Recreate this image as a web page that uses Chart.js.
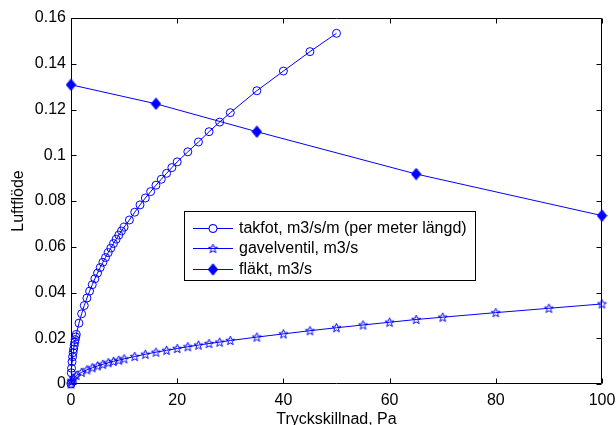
<!DOCTYPE html>
<html>
<head>
<meta charset="utf-8">
<script src="https://cdn.jsdelivr.net/npm/chart.js@4"></script>
<style>
  html, body { margin: 0; padding: 0; background: #fff; }
  canvas { display: block; }
</style>
</head>
<body>
<canvas id="c" width="616" height="425"></canvas>
<script>
// Pressure difference (Pa) and air flow for the three components
const pressureTakfot = [0, 0.05, 0.1, 0.2, 0.3, 0.4, 0.5, 0.6, 0.7, 0.8, 0.9, 1, 1.5, 2, 2.5, 3, 3.5, 4, 4.5, 5, 5.5, 6, 6.5, 7, 7.5, 8, 8.5, 9, 9.5, 10, 11, 12, 13, 14, 15, 16, 17, 18, 19, 20, 22, 24, 26, 28, 30, 35, 40, 45, 50];
const flowTakfot = [0, 0.0049, 0.0069, 0.0097, 0.0119, 0.0137, 0.0153, 0.0168, 0.0182, 0.0194, 0.0206, 0.0217, 0.0266, 0.0307, 0.0343, 0.0376, 0.0406, 0.0434, 0.046, 0.0485, 0.0509, 0.0532, 0.0553, 0.0574, 0.0594, 0.0614, 0.0633, 0.0651, 0.0669, 0.0686, 0.0717, 0.0751, 0.0783, 0.0813, 0.0841, 0.0869, 0.0895, 0.0921, 0.0946, 0.0971, 0.1015, 0.1058, 0.1103, 0.1145, 0.1186, 0.1282, 0.1368, 0.1453, 0.1533];

const pressureGavel = [0, 0.1, 0.2, 0.5, 1, 2, 3, 4, 5, 6, 7, 8, 9, 10, 12, 14, 16, 18, 20, 22, 24, 26, 28, 30, 35, 40, 45, 50, 55, 60, 65, 70, 80, 90, 100];
const flowGavel = [0, 0.0011, 0.0016, 0.0025, 0.0037, 0.0051, 0.0062, 0.0071, 0.0079, 0.0086, 0.0093, 0.0099, 0.0104, 0.0110, 0.0120, 0.0130, 0.0139, 0.0147, 0.0155, 0.0163, 0.0170, 0.0177, 0.0183, 0.0190, 0.0205, 0.0219, 0.0233, 0.0246, 0.0258, 0.0270, 0.0282, 0.0292, 0.0312, 0.0331, 0.0350];

const pressureFlakt = [0, 16, 35, 65, 100];
const flowFlakt = [0.1308, 0.1225, 0.1103, 0.0918, 0.0736];

const seriesLabels = ['takfot, m3/s/m (per meter längd)', 'gavelventil, m3/s', 'fläkt, m3/s'];
const xTitle = 'Tryckskillnad, Pa';
const yTitle = 'Luftflöde';
const xTicks = [0, 20, 40, 60, 80, 100];
const yTicks = [0, 0.02, 0.04, 0.06, 0.08, 0.1, 0.12, 0.14, 0.16];

const BLUE = '#0000ff';
const FONT = '"Liberation Sans", Arial, sans-serif';

function toPoints(xs, ys) { return xs.map((x, i) => ({ x: x, y: ys[i] })); }
function fmt(v) { return String(parseFloat(Number(v).toFixed(4))); }

// Open five-pointed star marker
function makePentagram() {
  const c = document.createElement('canvas');
  c.width = 11; c.height = 11;
  const g = c.getContext('2d');
  const cx = 5.5, cy = 5.8, ro = 4.8, ri = 2.0;
  g.beginPath();
  for (let k = 0; k < 10; k++) {
    const r = k % 2 === 0 ? ro : ri;
    const a = -Math.PI / 2 + k * Math.PI / 5;
    const px = cx + r * Math.cos(a), py = cy + r * Math.sin(a);
    if (k === 0) g.moveTo(px, py); else g.lineTo(px, py);
  }
  g.closePath();
  g.strokeStyle = BLUE; g.lineWidth = 1;
  g.stroke();
  return c;
}

// Filled diamond marker
function makeDiamond() {
  const c = document.createElement('canvas');
  c.width = 11; c.height = 13;
  const g = c.getContext('2d');
  g.beginPath();
  g.moveTo(5.5, 0.8); g.lineTo(10.2, 6.5); g.lineTo(5.5, 12.2); g.lineTo(0.8, 6.5);
  g.closePath();
  g.fillStyle = BLUE; g.fill();
  g.strokeStyle = BLUE; g.lineWidth = 1; g.stroke();
  return c;
}

const starMarker = makePentagram();
const diamondMarker = makeDiamond();

Chart.defaults.font.family = FONT;
Chart.defaults.font.size = 16;
Chart.defaults.color = '#000';

// Axes box with inward tick marks on all four sides
const boxPlugin = {
  id: 'axesBox',
  beforeDatasetsDraw(chart) {
    const ctx = chart.ctx;
    const a = chart.chartArea;
    const xs = chart.scales.x, ys = chart.scales.y;
    const L = Math.round(a.left) + 0.5, R = Math.round(a.right) - 0.5;
    const T = Math.round(a.top) + 0.5, B = Math.round(a.bottom) - 0.5;
    const len = 5;
    ctx.save();
    ctx.strokeStyle = '#000';
    ctx.lineWidth = 1;
    ctx.beginPath();
    ctx.rect(L, T, R - L, B - T);
    xTicks.forEach(v => {
      const px = Math.round(xs.getPixelForValue(v)) + 0.5;
      ctx.moveTo(px, B); ctx.lineTo(px, B - len);
      ctx.moveTo(px, T); ctx.lineTo(px, T + len);
    });
    yTicks.forEach(v => {
      const py = Math.round(ys.getPixelForValue(v)) + 0.5;
      ctx.moveTo(L, py); ctx.lineTo(L + len, py);
      ctx.moveTo(R, py); ctx.lineTo(R - len, py);
    });
    ctx.stroke();
    ctx.restore();
  }
};

// Boxed legend inside the plot area
const legendPlugin = {
  id: 'boxedLegend',
  afterDatasetsDraw(chart) {
    const ctx = chart.ctx;
    const bx = 184.5, by = 211.5, bw = 291, bh = 69;
    const rowY = [228, 248, 269];
    ctx.save();
    ctx.fillStyle = '#fff';
    ctx.fillRect(bx, by, bw, bh);
    ctx.strokeStyle = '#000';
    ctx.lineWidth = 1;
    ctx.strokeRect(bx, by, bw, bh);
    chart.data.datasets.forEach((ds, i) => {
      const y = rowY[i];
      ctx.strokeStyle = BLUE;
      ctx.lineWidth = 1;
      ctx.beginPath();
      ctx.moveTo(193, y + 0.5); ctx.lineTo(233, y + 0.5);
      ctx.stroke();
      Chart.helpers.drawPoint(ctx, {
        pointStyle: ds.pointStyle, radius: ds.pointRadius, borderWidth: 1,
        rotation: 0
      }, 213, y + 0.5);
      if (ds.pointStyle === 'circle') {
        ctx.fillStyle = '#fff';
        ctx.beginPath(); ctx.arc(213, y + 0.5, 4, 0, Math.PI * 2);
        ctx.fill(); ctx.stroke();
      }
      ctx.fillStyle = '#000';
      ctx.font = '16px ' + FONT;
      ctx.textBaseline = 'middle';
      ctx.textAlign = 'left';
      ctx.fillText(ds.label, 239, y + 1);
    });
    ctx.restore();
  }
};

new Chart(document.getElementById('c'), {
  type: 'scatter',
  data: {
    datasets: [
      {
        label: seriesLabels[0],
        data: toPoints(pressureTakfot, flowTakfot),
        showLine: true, borderColor: BLUE, borderWidth: 1,
        pointStyle: 'circle', pointRadius: 4, pointBorderWidth: 1,
        pointBorderColor: BLUE, pointBackgroundColor: 'rgba(0,0,0,0)',
        clip: false
      },
      {
        label: seriesLabels[1],
        data: toPoints(pressureGavel, flowGavel),
        showLine: true, borderColor: BLUE, borderWidth: 1,
        pointStyle: starMarker, pointRadius: 4.5,
        pointBorderColor: BLUE, pointBackgroundColor: 'rgba(0,0,0,0)',
        clip: false
      },
      {
        label: seriesLabels[2],
        data: toPoints(pressureFlakt, flowFlakt),
        showLine: true, borderColor: BLUE, borderWidth: 1,
        pointStyle: diamondMarker, pointRadius: 5,
        pointBorderColor: BLUE, pointBackgroundColor: BLUE,
        clip: false
      }
    ]
  },
  options: {
    responsive: false,
    animation: false,
    devicePixelRatio: 1,
    layout: { padding: { top: 18, right: 14, left: 0, bottom: 0 } },
    plugins: { legend: { display: false }, tooltip: { enabled: false } },
    scales: {
      x: {
        type: 'linear', min: 0, max: 100,
        afterBuildTicks(s) { s.ticks = xTicks.map(v => ({ value: v })); },
        ticks: { padding: 7, maxRotation: 0, callback: v => fmt(v), color: '#000' },
        grid: { display: false, drawTicks: false },
        border: { display: false },
        title: { display: true, text: xTitle, padding: { top: 0, bottom: -4 }, color: '#000' },
        afterFit(s) { s.height = 41; s.paddingLeft = 0; s.paddingRight = 0; }
      },
      y: {
        type: 'linear', min: 0, max: 0.16,
        afterBuildTicks(s) { s.ticks = yTicks.map(v => ({ value: v })); },
        ticks: { padding: 5, callback: v => fmt(v), color: '#000' },
        grid: { display: false, drawTicks: false },
        border: { display: false },
        title: { display: true, text: yTitle, padding: { top: 9, bottom: 0 }, color: '#000' },
        afterFit(s) { s.width = 71; s.paddingTop = 0; s.paddingBottom = 0; }
      }
    }
  },
  plugins: [boxPlugin, legendPlugin]
});
</script>
</body>
</html>
